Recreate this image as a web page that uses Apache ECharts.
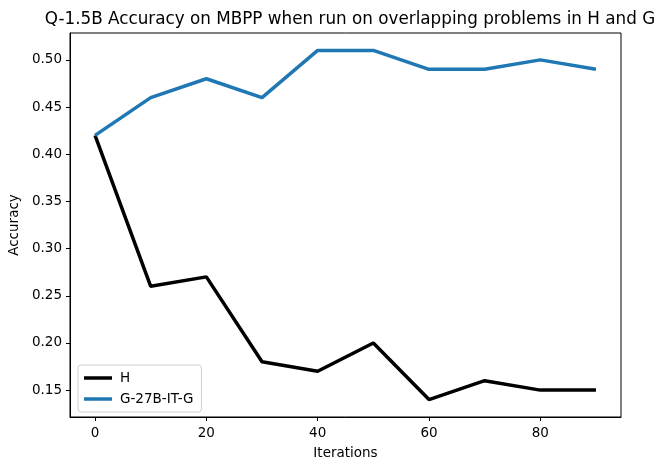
<!DOCTYPE html>
<html><head><meta charset="utf-8">
<script src="https://cdn.jsdelivr.net/npm/echarts@6/dist/echarts.min.js"></script>
<style>html,body{margin:0;padding:0;background:#fff}#c{width:656px;height:470px}</style>
</head><body><div id="c"></div>
<script>
const iterations = [0, 10, 20, 30, 40, 50, 60, 70, 80, 90];
const hValues = [0.42, 0.26, 0.27, 0.18, 0.17, 0.20, 0.14, 0.16, 0.15, 0.15];
const gValues = [0.42, 0.46, 0.48, 0.46, 0.51, 0.51, 0.49, 0.49, 0.50, 0.49];
const xTicks = [0, 20, 40, 60, 80];
const yTicks = [0.15, 0.20, 0.25, 0.30, 0.35, 0.40, 0.45, 0.50];

const font = 'DejaVu Sans';
const chart = echarts.init(document.getElementById('c'), null, {renderer: 'canvas'});
chart.setOption({
  animation: false,
  backgroundColor: '#fff',
  title: {
    text: 'Q-1.5B Accuracy on MBPP when run on overlapping problems in H and G',
    left: 345, textAlign: 'center', top: 6,
    textStyle: {fontFamily: font, fontSize: 16.8, fontWeight: 'normal', color: '#000'}
  },
  grid: {left: 70, right: 35, top: 33, bottom: 53, containLabel: false, outerBoundsMode: 'none'},
  legend: {
    orient: 'vertical', left: 78, top: 365,
    itemWidth: 28, itemHeight: 3.5, itemGap: 7,
    padding: [6, 8, 6, 6],
    borderColor: '#d0d0d0', borderWidth: 1, borderRadius: 3,
    backgroundColor: 'rgba(255,255,255,0.8)',
    textStyle: {fontFamily: font, fontSize: 13.5, color: '#000', padding: [0, 0, 0, 3]},
    data: [{name: 'H', icon: 'rect'}, {name: 'G-27B-IT-G', icon: 'rect'}]
  },
  xAxis: {
    type: 'value', min: -4.5, max: 94.5,
    name: 'Iterations', nameLocation: 'middle', nameGap: 29,
    nameTextStyle: {fontFamily: font, fontSize: 13.5, color: '#000'},
    axisLine: {show: true, onZero: false, lineStyle: {color: '#000', width: 1}},
    axisTick: {show: true, length: 4, inside: false, customValues: xTicks, lineStyle: {color: '#000'}},
    axisLabel: {fontFamily: font, fontSize: 13.5, color: '#000', margin: 9, customValues: xTicks},
    splitLine: {show: false}
  },
  yAxis: {
    type: 'value', min: 0.1215, max: 0.5285,
    name: 'Accuracy', nameLocation: 'middle', nameGap: 48,
    nameTextStyle: {fontFamily: font, fontSize: 13.5, color: '#000'},
    axisLine: {show: true, onZero: false, lineStyle: {color: '#000', width: 1}},
    axisTick: {show: true, length: 4, customValues: yTicks, lineStyle: {color: '#000'}},
    axisLabel: {fontFamily: font, fontSize: 13.5, color: '#000', margin: 8, customValues: yTicks,
      formatter: v => v.toFixed(2)},
    splitLine: {show: false}
  },
  graphic: [{
    type: 'rect', shape: {x: 70, y: 33, width: 551, height: 384},
    style: {fill: 'none', stroke: '#000', lineWidth: 1}, silent: true, z: 10
  }],
  series: [
    {name: 'H', type: 'line', data: iterations.map((x, i) => [x, hValues[i]]),
     showSymbol: false, symbol: 'none', lineStyle: {color: '#000', width: 3.5}, itemStyle: {color: '#000'}},
    {name: 'G-27B-IT-G', type: 'line', data: iterations.map((x, i) => [x, gValues[i]]),
     showSymbol: false, symbol: 'none', lineStyle: {color: '#1f77b4', width: 3.5}, itemStyle: {color: '#1f77b4'}}
  ]
});
</script></body></html>
